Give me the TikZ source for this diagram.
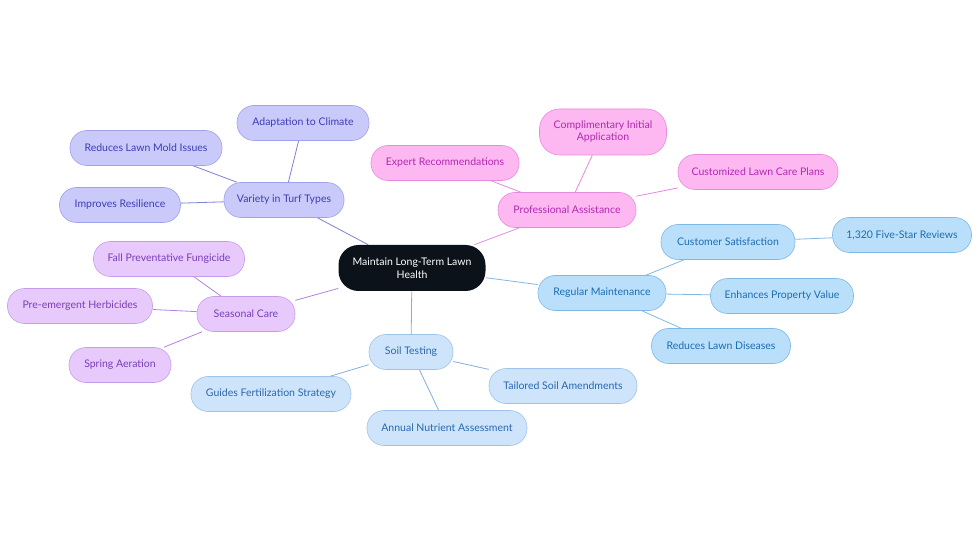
\documentclass[tikz,border=0pt]{standalone}
\usepackage{fontspec}
\setmainfont{Lato}
\usetikzlibrary{backgrounds}
\definecolor{rootdark}{HTML}{0B1219}
\definecolor{turffill}{HTML}{C9CAF9}
\definecolor{turfline}{HTML}{9FA1EC}
\definecolor{turfedge}{HTML}{7F80D6}
\definecolor{turftext}{HTML}{3D3DB4}
\definecolor{profill}{HTML}{FDB8F2}
\definecolor{proline}{HTML}{E68ADF}
\definecolor{protext}{HTML}{B02AAE}
\definecolor{maintfill}{HTML}{BADFFB}
\definecolor{maintline}{HTML}{7FB8E4}
\definecolor{mainttext}{HTML}{1D6CB0}
\definecolor{seasonfill}{HTML}{E7CAFB}
\definecolor{seasonline}{HTML}{C69DEC}
\definecolor{seasonedge}{HTML}{B083E0}
\definecolor{seasontext}{HTML}{7A3DB8}
\definecolor{soilfill}{HTML}{CEE4FA}
\definecolor{soilline}{HTML}{9EC3EA}
\definecolor{soiledge}{HTML}{86AEDB}
\definecolor{soiltext}{HTML}{2A67B0}

\tikzset{
  pill/.style={rounded corners=17pt, minimum height=35pt, inner sep=2pt,
    align=center, font=\fontsize{10.5}{12}\selectfont, line width=0.6pt},
  turfbox/.style={pill, fill=turffill, draw=turfline, text=turftext},
  probox/.style={pill, fill=profill, draw=proline, text=protext},
  maintbox/.style={pill, fill=maintfill, draw=maintline, text=mainttext},
  seasonbox/.style={pill, fill=seasonfill, draw=seasonline, text=seasontext},
  soilbox/.style={pill, fill=soilfill, draw=soilline, text=soiltext},
  link/.style={line width=0.8pt}
}

\begin{document}
\begin{tikzpicture}[x=1pt, y=-1pt]
  \useasboundingbox (0,0) rectangle (980,553);

  % Central topic
  \node[pill, fill=rootdark, text=white, minimum width=147pt, minimum height=46pt,
        rounded corners=20pt, font=\fontsize{10.5}{12.5}\selectfont] (root) at (412,268)
        {Maintain Long-Term Lawn\\Health};

  % Variety in turf types
  \node[turfbox, minimum width=120pt] (turf) at (284,200) {Variety in Turf Types};
  \node[turfbox, minimum width=132pt] (climate) at (303,123) {Adaptation to Climate};
  \node[turfbox, minimum width=152pt] (mold) at (146,148) {Reduces Lawn Mold Issues};
  \node[turfbox, minimum width=121pt] (resil) at (120,205) {Improves Resilience};

  % Professional assistance
  \node[probox, minimum width=138pt] (pro) at (567,210) {Professional Assistance};
  \node[probox, minimum width=127pt, minimum height=46pt, rounded corners=20pt] (compl) at (603,132)
        {Complimentary Initial\\Application};
  \node[probox, minimum width=148pt] (expert) at (445,163) {Expert Recommendations};
  \node[probox, minimum width=160pt] (custom) at (758,172) {Customized Lawn Care Plans};

  % Regular maintenance
  \node[maintbox, minimum width=128pt] (maint) at (602,293) {Regular Maintenance};
  \node[maintbox, minimum width=134pt] (satis) at (728,242) {Customer Satisfaction};
  \node[maintbox, minimum width=139pt] (reviews) at (902,235) {1,320 Five-Star Reviews};
  \node[maintbox, minimum width=143pt] (value) at (782,296) {Enhances Property Value};
  \node[maintbox, minimum width=139pt] (disease) at (721,346) {Reduces Lawn Diseases};

  % Seasonal care
  \node[seasonbox, minimum width=98pt] (season) at (246,314) {Seasonal Care};
  \node[seasonbox, minimum width=151pt] (fungi) at (169,259) {Fall Preventative Fungicide};
  \node[seasonbox, minimum width=145pt] (herb) at (80,306) {Pre-emergent Herbicides};
  \node[seasonbox, minimum width=102pt] (aer) at (120,365) {Spring Aeration};

  % Soil testing
  \node[soilbox, minimum width=84pt] (soil) at (411,352) {Soil Testing};
  \node[soilbox, minimum width=160pt] (fert) at (271,394) {Guides Fertilization Strategy};
  \node[soilbox, minimum width=160pt] (nutr) at (447,428) {Annual Nutrient Assessment};
  \node[soilbox, minimum width=148pt] (amend) at (563,386) {Tailored Soil Amendments};

  % Canvas and connectors behind the pills
  \begin{scope}[on background layer]
    \fill[white] (0,0) rectangle (980,553);

    \draw[link, turfedge] (root) -- (turf);
    \draw[link, turfedge] (turf) -- (climate);
    \draw[link, turfedge] (turf) -- (mold);
    \draw[link, turfedge] (turf) -- (resil);

    \draw[link, proline] (root) -- (pro);
    \draw[link, proline] (pro) -- (compl);
    \draw[link, proline] (pro) -- (expert);
    \draw[link, proline] (pro) -- (custom);

    \draw[link, maintline] (root) -- (maint);
    \draw[link, maintline] (maint) -- (satis);
    \draw[link, maintline] (satis) -- (reviews);
    \draw[link, maintline] (maint) -- (value);
    \draw[link, maintline] (maint) -- (disease);

    \draw[link, seasonedge] (root) -- (season);
    \draw[link, seasonedge] (season) -- (fungi);
    \draw[link, seasonedge] (season) -- (herb);
    \draw[link, seasonedge] (season) -- (aer);

    \draw[link, soiledge] (root) -- (soil);
    \draw[link, soiledge] (soil) -- (fert);
    \draw[link, soiledge] (soil) -- (nutr);
    \draw[link, soiledge] (soil) -- (amend);
  \end{scope}
\end{tikzpicture}
\end{document}
